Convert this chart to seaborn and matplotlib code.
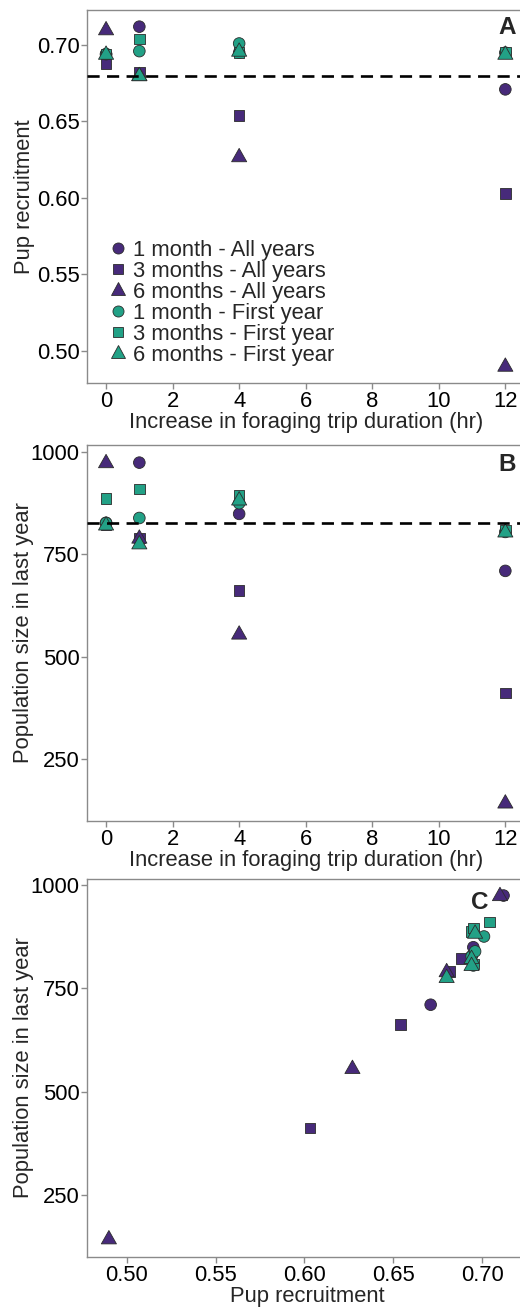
import pandas as pd
import seaborn as sns
import matplotlib.pyplot as plt
from matplotlib.markers import MarkerStyle
from matplotlib.transforms import Affine2D
from matplotlib.ticker import FormatStrFormatter

# trip duration increase (hr)
hours = [0, 1, 4, 12]

groups = ["1 month - All years", "3 months - All years", "6 months - All years",
          "1 month - First year", "3 months - First year", "6 months - First year"]

# pup recruitment per scenario
pup_1m_all = [0.694, 0.712, 0.695, 0.671]
pup_3m_all = [0.688, 0.682, 0.654, 0.603]
pup_6m_all = [0.710, 0.680, 0.627, 0.490]
pup_1m_first = [0.694, 0.696, 0.701, 0.695]
pup_3m_first = [0.694, 0.704, 0.695, 0.695]
pup_6m_first = [0.694, 0.680, 0.696, 0.694]

# population size in last year per scenario
pop_1m_all = [827, 974, 849, 710]
pop_3m_all = [822, 790, 662, 412]
pop_6m_all = [974, 790, 556, 144]
pop_1m_first = [827, 839, 875, 805]
pop_3m_first = [887, 910, 895, 808]
pop_6m_first = [822, 776, 883, 805]

baseline_pup = 0.680
baseline_pop = 827

pup_all = [pup_1m_all, pup_3m_all, pup_6m_all, pup_1m_first, pup_3m_first, pup_6m_first]
pop_all = [pop_1m_all, pop_3m_all, pop_6m_all, pop_1m_first, pop_3m_first, pop_6m_first]

rows = []
for g, pups, pops in zip(groups, pup_all, pop_all):
    for h, p, n in zip(hours, pups, pops):
        rows.append({'hours': h, 'pup': p, 'pop': n, 'group': g})
df = pd.DataFrame(rows)

purple = "#472A7A"
teal = "#22A186"
palette = dict(zip(groups, [purple] * 3 + [teal] * 3))
circle = MarkerStyle('o')
square = MarkerStyle('s', transform=Affine2D().scale(0.9))
triangle = MarkerStyle('^', transform=Affine2D().translate(0, 0.12).scale(1.3, 1.15))
markers = dict(zip(groups, [circle, square, triangle] * 2))

sns.set_theme(style="ticks")
plt.rcParams['font.family'] = ['Liberation Sans', 'DejaVu Sans']
fs = 15.8
plt.rcParams.update({
    'axes.edgecolor': '#8a8a8a',
    'axes.linewidth': 1.0,
    'xtick.color': '#8a8a8a',
    'ytick.color': '#8a8a8a',
    'xtick.labelcolor': 'black',
    'ytick.labelcolor': 'black',
    'xtick.major.size': 4,
    'ytick.major.size': 4,
    'xtick.major.width': 1.0,
    'ytick.major.width': 1.0,
    'xtick.labelsize': fs,
    'ytick.labelsize': fs,
    'axes.labelsize': fs,
})

W, H = 520, 1307
fig = plt.figure(figsize=(W / 100, H / 100), dpi=100)


def px_axes(left, top, right, bottom):
    return fig.add_axes([left / W, 1 - bottom / H, (right - left) / W, (bottom - top) / H])


ax_a = px_axes(87.1, 10, 525.3, 383)
ax_b = px_axes(87.1, 445, 525.3, 821)
ax_c = px_axes(87.2, 879, 527.0, 1257)

pt_kw = dict(hue='group', style='group', palette=palette, markers=markers,
             hue_order=groups, style_order=groups, s=70, edgecolor='#2b2b2b', linewidth=0.6)

sns.scatterplot(data=df, x='hours', y='pup', ax=ax_a, **pt_kw)
sns.scatterplot(data=df, x='hours', y='pop', ax=ax_b, legend=False, **pt_kw)
sns.scatterplot(data=df, x='pup', y='pop', ax=ax_c, legend=False, **pt_kw)

dash_kw = dict(color='black', linewidth=1.9, dashes=(4.6, 2.8), zorder=5)
ax_a.axhline(baseline_pup, **dash_kw)
ax_b.axhline(baseline_pop, **dash_kw)

for ax in (ax_a, ax_b):
    ax.set_xlim(-0.57, 12.6)
    ax.set_xticks(range(0, 13, 2))
    ax.set_xlabel("Increase in foraging trip duration (hr)", labelpad=0)

ax_a.set_ylim(0.479, 0.7229)
ax_a.set_yticks([0.50, 0.55, 0.60, 0.65, 0.70])
ax_a.yaxis.set_major_formatter(FormatStrFormatter('%.2f'))
ax_a.set_ylabel("Pup recruitment", labelpad=1)

ax_b.set_ylim(100, 1017)
ax_b.set_yticks([250, 500, 750, 1000])
ax_b.set_ylabel("Population size in last year", labelpad=-2.5)

ax_c.set_xlim(0.4778, 0.7252)
ax_c.set_xticks([0.50, 0.55, 0.60, 0.65, 0.70])
ax_c.xaxis.set_major_formatter(FormatStrFormatter('%.2f'))
ax_c.set_ylim(100, 1014)
ax_c.set_yticks([250, 500, 750, 1000])
ax_c.set_xlabel("Pup recruitment", labelpad=0)
ax_c.set_ylabel("Population size in last year", labelpad=-2.5)

for ax in (ax_a, ax_b, ax_c):
    ax.tick_params(pad=1.5)
    for side in ('top', 'right'):
        ax.spines[side].set_visible(True)

ax_a.text(0.958, 0.952, "A", transform=ax_a.transAxes, ha='center', va='center',
          fontsize=17.5, fontweight='bold')
ax_b.text(0.959, 0.947, "B", transform=ax_b.transAxes, ha='center', va='center',
          fontsize=17.5, fontweight='bold')
ax_c.text(0.893, 0.939, "C", transform=ax_c.transAxes, ha='center', va='center',
          fontsize=17.5, fontweight='bold')

handles, labels = ax_a.get_legend_handles_labels()
keep = [(h, l) for h, l in zip(handles, labels) if l in groups]
ax_a.legend([h for h, _ in keep], [l for _, l in keep], loc='center left',
            bbox_to_anchor=(0.052, 0.215), frameon=False, fontsize=fs,
            borderpad=0, labelspacing=0.0, handlelength=0.75, handletextpad=0.3,
            markerscale=0.95, borderaxespad=0)

fig.savefig('out.png', dpi=100)
